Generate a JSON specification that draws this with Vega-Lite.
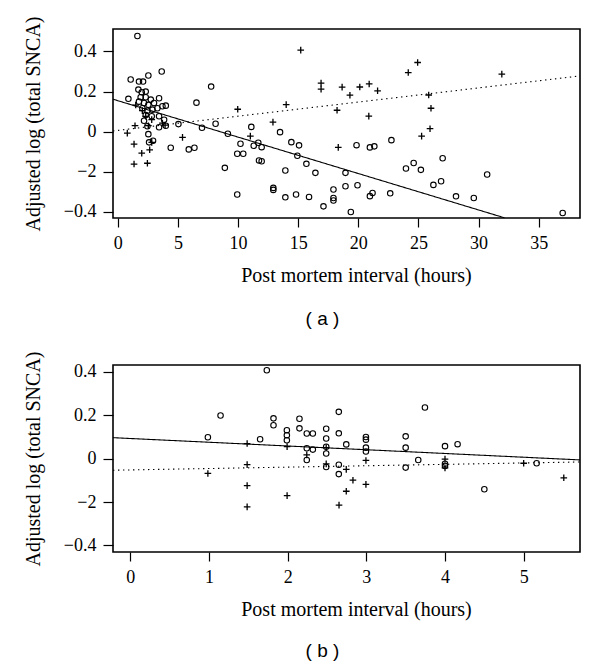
{
  "$schema": "https://vega.github.io/schema/vega-lite/v6.json",
  "background": "white",
  "padding": {"left": 22, "top": 15, "right": 5, "bottom": 5},
  "config": {
    "font": "Liberation Serif",
    "view": {"stroke": "black", "strokeWidth": 1.6},
    "axis": {
      "grid": false,
      "domain": false,
      "tickColor": "black",
      "tickWidth": 1.2,
      "tickSize": 9,
      "labelColor": "black",
      "labelFont": "Liberation Serif",
      "labelFontSize": 18,
      "labelPadding": 7,
      "labelFlush": false,
      "labelOverlap": false,
      "labelBound": false,
      "titleColor": "black",
      "titleFont": "Liberation Serif",
      "titleFontSize": 20,
      "titleFontWeight": "normal"
    },
    "title": {"font": "Liberation Sans", "fontSize": 19, "fontWeight": "normal", "color": "black"}
  },
  "datasets": {
    "a_pts": [
      {"h": 1.63, "v": 0.477, "g": "o"}, {"h": 1.07, "v": 0.26, "g": "o"}, {"h": 1.76, "v": 0.25, "g": "o"}, {"h": 2.1, "v": 0.25, "g": "o"},
      {"h": 2.54, "v": 0.28, "g": "o"}, {"h": 3.65, "v": 0.30, "g": "o"}, {"h": 0.88, "v": 0.164, "g": "o"}, {"h": 1.71, "v": 0.21, "g": "o"},
      {"h": 1.99, "v": 0.197, "g": "o"}, {"h": 2.32, "v": 0.20, "g": "o"}, {"h": 1.9, "v": 0.172, "g": "o"}, {"h": 2.32, "v": 0.172, "g": "o"},
      {"h": 2.74, "v": 0.16, "g": "o"}, {"h": 1.76, "v": 0.15, "g": "o"}, {"h": 2.18, "v": 0.143, "g": "o"}, {"h": 2.54, "v": 0.134, "g": "o"},
      {"h": 3.01, "v": 0.143, "g": "o"}, {"h": 3.43, "v": 0.167, "g": "o"}, {"h": 2.04, "v": 0.117, "g": "o"}, {"h": 2.46, "v": 0.105, "g": "o"},
      {"h": 2.88, "v": 0.11, "g": "o"}, {"h": 3.29, "v": 0.117, "g": "o"}, {"h": 3.71, "v": 0.127, "g": "o"}, {"h": 3.99, "v": 0.13, "g": "o"},
      {"h": 2.32, "v": 0.083, "g": "o"}, {"h": 2.82, "v": 0.077, "g": "o"}, {"h": 3.43, "v": 0.077, "g": "o"}, {"h": 2.18, "v": 0.055, "g": "o"},
      {"h": 3.85, "v": 0.06, "g": "o"}, {"h": 2.46, "v": 0.027, "g": "o"}, {"h": 3.43, "v": 0.022, "g": "o"}, {"h": 3.99, "v": 0.03, "g": "o"},
      {"h": 5.04, "v": 0.038, "g": "o"}, {"h": 2.54, "v": -0.012, "g": "o"}, {"h": 2.6, "v": -0.053, "g": "o"}, {"h": 2.93, "v": -0.045, "g": "o"},
      {"h": 6.54, "v": 0.145, "g": "o"}, {"h": 7.0, "v": 0.02, "g": "o"}, {"h": 4.4, "v": -0.08, "g": "o"}, {"h": 5.9, "v": -0.088, "g": "o"},
      {"h": 6.37, "v": -0.08, "g": "o"}, {"h": 7.76, "v": 0.225, "g": "o"}, {"h": 8.13, "v": 0.04, "g": "o"}, {"h": 9.15, "v": -0.01, "g": "o"},
      {"h": 11.1, "v": 0.024, "g": "o"}, {"h": 10.2, "v": -0.06, "g": "o"}, {"h": 11.3, "v": -0.07, "g": "o"}, {"h": 11.68, "v": -0.055, "g": "o"},
      {"h": 11.96, "v": -0.077, "g": "o"}, {"h": 9.93, "v": -0.11, "g": "o"}, {"h": 10.43, "v": -0.11, "g": "o"}, {"h": 8.9, "v": -0.18, "g": "o"},
      {"h": 11.74, "v": -0.143, "g": "o"}, {"h": 11.96, "v": -0.147, "g": "o"}, {"h": 9.93, "v": -0.313, "g": "o"}, {"h": 13.49, "v": -0.002, "g": "o"},
      {"h": 14.43, "v": -0.052, "g": "o"}, {"h": 15.07, "v": -0.068, "g": "o"}, {"h": 14.93, "v": -0.12, "g": "o"}, {"h": 15.68, "v": -0.16, "g": "o"},
      {"h": 13.93, "v": -0.193, "g": "o"}, {"h": 16.43, "v": -0.205, "g": "o"}, {"h": 18.93, "v": -0.205, "g": "o"}, {"h": 12.93, "v": -0.28, "g": "o"},
      {"h": 12.93, "v": -0.29, "g": "o"}, {"h": 13.93, "v": -0.327, "g": "o"}, {"h": 14.82, "v": -0.313, "g": "o"}, {"h": 15.9, "v": -0.325, "g": "o"},
      {"h": 17.1, "v": -0.372, "g": "o"}, {"h": 17.93, "v": -0.288, "g": "o"}, {"h": 17.93, "v": -0.33, "g": "o"}, {"h": 17.93, "v": -0.343, "g": "o"},
      {"h": 18.93, "v": -0.272, "g": "o"}, {"h": 19.375, "v": -0.40, "g": "o"}, {"h": 19.93, "v": -0.267, "g": "o"}, {"h": 19.85, "v": -0.067, "g": "o"},
      {"h": 20.96, "v": -0.078, "g": "o"}, {"h": 21.33, "v": -0.073, "g": "o"}, {"h": 22.75, "v": -0.042, "g": "o"}, {"h": 21.18, "v": -0.305, "g": "o"},
      {"h": 20.96, "v": -0.321, "g": "o"}, {"h": 22.65, "v": -0.307, "g": "o"}, {"h": 23.96, "v": -0.183, "g": "o"}, {"h": 24.6, "v": -0.156, "g": "o"},
      {"h": 25.2, "v": -0.19, "g": "o"}, {"h": 27.01, "v": -0.132, "g": "o"}, {"h": 26.24, "v": -0.265, "g": "o"}, {"h": 26.88, "v": -0.247, "g": "o"},
      {"h": 28.12, "v": -0.322, "g": "o"}, {"h": 29.6, "v": -0.33, "g": "o"}, {"h": 30.71, "v": -0.213, "g": "o"}, {"h": 36.99, "v": -0.405, "g": "o"},
      {"h": 0.79, "v": -0.007, "g": "+"}, {"h": 1.43, "v": 0.03, "g": "+"}, {"h": 1.35, "v": -0.062, "g": "+"}, {"h": 1.99, "v": -0.107, "g": "+"},
      {"h": 1.35, "v": -0.161, "g": "+"}, {"h": 2.46, "v": -0.157, "g": "+"}, {"h": 2.65, "v": -0.09, "g": "+"}, {"h": 2.82, "v": -0.053, "g": "+"},
      {"h": 2.04, "v": 0.105, "g": "+"}, {"h": 1.49, "v": 0.133, "g": "+"}, {"h": 2.32, "v": 0.077, "g": "+"}, {"h": 2.82, "v": 0.06, "g": "+"},
      {"h": 3.71, "v": 0.043, "g": "+"}, {"h": 3.93, "v": 0.033, "g": "+"}, {"h": 2.54, "v": 0.03, "g": "+"}, {"h": 5.38, "v": -0.028, "g": "+"},
      {"h": 9.97, "v": 0.112, "g": "+"}, {"h": 11.02, "v": -0.022, "g": "+"}, {"h": 12.9, "v": 0.048, "g": "+"}, {"h": 14.0, "v": 0.135, "g": "+"},
      {"h": 15.21, "v": 0.407, "g": "+"}, {"h": 16.9, "v": 0.242, "g": "+"}, {"h": 16.9, "v": 0.212, "g": "+"}, {"h": 18.23, "v": 0.107, "g": "+"},
      {"h": 18.33, "v": -0.078, "g": "+"}, {"h": 18.65, "v": 0.222, "g": "+"}, {"h": 19.3, "v": 0.182, "g": "+"}, {"h": 20.12, "v": 0.223, "g": "+"},
      {"h": 20.9, "v": 0.238, "g": "+"}, {"h": 21.6, "v": 0.204, "g": "+"}, {"h": 20.87, "v": 0.078, "g": "+"}, {"h": 24.15, "v": 0.295, "g": "+"},
      {"h": 24.93, "v": 0.345, "g": "+"}, {"h": 25.85, "v": 0.183, "g": "+"}, {"h": 26.04, "v": 0.117, "g": "+"}, {"h": 25.96, "v": 0.015, "g": "+"},
      {"h": 25.26, "v": -0.022, "g": "+"}, {"h": 31.93, "v": 0.287, "g": "+"}
    ],
    "a_lines": [
      {"h": -0.4, "v": 0.162, "k": "solid"}, {"h": 32.15, "v": -0.429, "k": "solid"},
      {"h": -0.4, "v": 0.004, "k": "dotted"}, {"h": 38.43, "v": 0.278, "k": "dotted"}
    ],
    "b_pts": [
      {"h": 0.986, "v": 0.099, "g": "o"}, {"h": 1.147, "v": 0.199, "g": "o"}, {"h": 1.65, "v": 0.09, "g": "o"}, {"h": 1.735, "v": 0.408, "g": "o"},
      {"h": 1.82, "v": 0.186, "g": "o"}, {"h": 1.82, "v": 0.154, "g": "o"}, {"h": 1.99, "v": 0.131, "g": "o"}, {"h": 1.99, "v": 0.108, "g": "o"},
      {"h": 1.99, "v": 0.085, "g": "o"}, {"h": 2.15, "v": 0.184, "g": "o"}, {"h": 2.15, "v": 0.14, "g": "o"}, {"h": 2.243, "v": 0.116, "g": "o"},
      {"h": 2.32, "v": 0.116, "g": "o"}, {"h": 2.243, "v": 0.048, "g": "o"}, {"h": 2.32, "v": 0.042, "g": "o"}, {"h": 2.243, "v": -0.006, "g": "o"},
      {"h": 2.49, "v": 0.138, "g": "o"}, {"h": 2.49, "v": 0.093, "g": "o"}, {"h": 2.49, "v": 0.024, "g": "o"}, {"h": 2.49, "v": 0.055, "g": "o"},
      {"h": 2.49, "v": -0.038, "g": "o"}, {"h": 2.65, "v": 0.216, "g": "o"}, {"h": 2.65, "v": 0.117, "g": "o"}, {"h": 2.65, "v": -0.028, "g": "o"},
      {"h": 2.65, "v": -0.071, "g": "o"}, {"h": 2.745, "v": 0.066, "g": "o"}, {"h": 2.995, "v": 0.1, "g": "o"}, {"h": 2.995, "v": 0.088, "g": "o"},
      {"h": 2.995, "v": 0.051, "g": "o"}, {"h": 2.995, "v": 0.033, "g": "o"}, {"h": 3.5, "v": 0.103, "g": "o"}, {"h": 3.5, "v": 0.051, "g": "o"},
      {"h": 3.5, "v": -0.041, "g": "o"}, {"h": 3.66, "v": -0.006, "g": "o"}, {"h": 3.745, "v": 0.236, "g": "o"}, {"h": 4.0, "v": 0.058, "g": "o"},
      {"h": 4.0, "v": -0.023, "g": "o"}, {"h": 4.0, "v": -0.033, "g": "o"}, {"h": 4.16, "v": 0.067, "g": "o"}, {"h": 4.5, "v": -0.141, "g": "o"},
      {"h": 5.165, "v": -0.021, "g": "o"},
      {"h": 0.986, "v": -0.068, "g": "+"}, {"h": 1.485, "v": 0.07, "g": "+"}, {"h": 1.485, "v": -0.027, "g": "+"}, {"h": 1.485, "v": -0.124, "g": "+"},
      {"h": 1.485, "v": -0.222, "g": "+"}, {"h": 1.993, "v": 0.056, "g": "+"}, {"h": 1.993, "v": -0.17, "g": "+"}, {"h": 2.243, "v": 0.018, "g": "+"},
      {"h": 2.49, "v": 0.051, "g": "+"}, {"h": 2.49, "v": -0.024, "g": "+"}, {"h": 2.653, "v": -0.214, "g": "+"}, {"h": 2.745, "v": -0.049, "g": "+"},
      {"h": 2.83, "v": -0.099, "g": "+"}, {"h": 2.745, "v": -0.15, "g": "+"}, {"h": 2.995, "v": -0.008, "g": "+"}, {"h": 2.995, "v": -0.118, "g": "+"},
      {"h": 4.0, "v": -0.002, "g": "+"}, {"h": 4.0, "v": -0.042, "g": "+"}, {"h": 5.0, "v": -0.021, "g": "+"}, {"h": 5.51, "v": -0.088, "g": "+"}
    ],
    "b_lines": [
      {"h": -0.22, "v": 0.097, "k": "solid"}, {"h": 5.716, "v": -0.0055, "k": "solid"},
      {"h": -0.22, "v": -0.053, "k": "dotted"}, {"h": 5.716, "v": -0.015, "k": "dotted"}
    ]
  },
  "vconcat": [
    {
      "width": 467,
      "height": 189,
      "title": {"text": "( a )", "orient": "bottom", "anchor": "middle", "frame": "group", "dx": -24, "offset": 25},
      "encoding": {
        "x": {"field": "h", "type": "quantitative", "scale": {"domain": [-0.4, 38.43], "nice": false, "zero": false},
              "axis": {"values": [0, 5, 10, 15, 20, 25, 30, 35], "title": "Post mortem interval (hours)", "titlePadding": 13, "titleX": 243}},
        "y": {"field": "v", "type": "quantitative", "scale": {"domain": [-0.43, 0.512], "nice": false, "zero": false},
              "axis": {"values": [-0.4, -0.2, 0, 0.2, 0.4], "title": "Adjusted log (total SNCA)", "titlePadding": 20, "tickSize": 10,
                       "labelExpr": "datum.value > 0.3 ? '0.4' : datum.value > 0.1 ? '0.2' : datum.value > -0.1 ? '0' : datum.value > -0.3 ? '−2' : '−0.4'"}}
      },
      "layer": [
        {
          "data": {"name": "a_lines"},
          "mark": {"type": "line", "color": "black", "strokeWidth": 1.1},
          "encoding": {
            "detail": {"field": "k", "type": "nominal"},
            "strokeDash": {"field": "k", "type": "nominal", "scale": {"domain": ["solid", "dotted"], "range": [[1, 0], [1.4, 3.6]]}, "legend": null}
          }
        },
        {
          "data": {"name": "a_pts"},
          "transform": [{"filter": "datum.g === 'o'"}],
          "mark": {"type": "point", "shape": "circle", "filled": false, "color": "black", "strokeWidth": 1.1, "size": 30, "opacity": 1}
        },
        {
          "data": {"name": "a_pts"},
          "transform": [{"filter": "datum.g === '+'"}],
          "mark": {"type": "point", "shape": "M-1,0H1M0,-1V1", "filled": false, "color": "black", "strokeWidth": 1.3, "size": 44, "opacity": 1}
        }
      ]
    },
    {
      "width": 467,
      "height": 187,
      "title": {"text": "( b )", "orient": "bottom", "anchor": "middle", "frame": "group", "dx": -24, "offset": 23},
      "encoding": {
        "x": {"field": "h", "type": "quantitative", "scale": {"domain": [-0.22, 5.716], "nice": false, "zero": false},
              "axis": {"values": [0, 1, 2, 3, 4, 5], "title": "Post mortem interval (hours)", "titlePadding": 13, "titleX": 243}},
        "y": {"field": "v", "type": "quantitative", "scale": {"domain": [-0.43, 0.432], "nice": false, "zero": false},
              "axis": {"values": [-0.4, -0.2, 0, 0.2, 0.4], "title": "Adjusted log (total SNCA)", "titlePadding": 20, "tickSize": 10,
                       "labelExpr": "datum.value > 0.3 ? '0.4' : datum.value > 0.1 ? '0.2' : datum.value > -0.1 ? '0' : datum.value > -0.3 ? '−2' : '−0.4'"}}
      },
      "layer": [
        {
          "data": {"name": "b_lines"},
          "mark": {"type": "line", "color": "black", "strokeWidth": 1.1},
          "encoding": {
            "detail": {"field": "k", "type": "nominal"},
            "strokeDash": {"field": "k", "type": "nominal", "scale": {"domain": ["solid", "dotted"], "range": [[1, 0], [1.4, 3.6]]}, "legend": null}
          }
        },
        {
          "data": {"name": "b_pts"},
          "transform": [{"filter": "datum.g === 'o'"}],
          "mark": {"type": "point", "shape": "circle", "filled": false, "color": "black", "strokeWidth": 1.1, "size": 30, "opacity": 1}
        },
        {
          "data": {"name": "b_pts"},
          "transform": [{"filter": "datum.g === '+'"}],
          "mark": {"type": "point", "shape": "M-1,0H1M0,-1V1", "filled": false, "color": "black", "strokeWidth": 1.3, "size": 44, "opacity": 1}
        }
      ]
    }
  ],
  "spacing": 147,
  "bounds": "flush"
}
